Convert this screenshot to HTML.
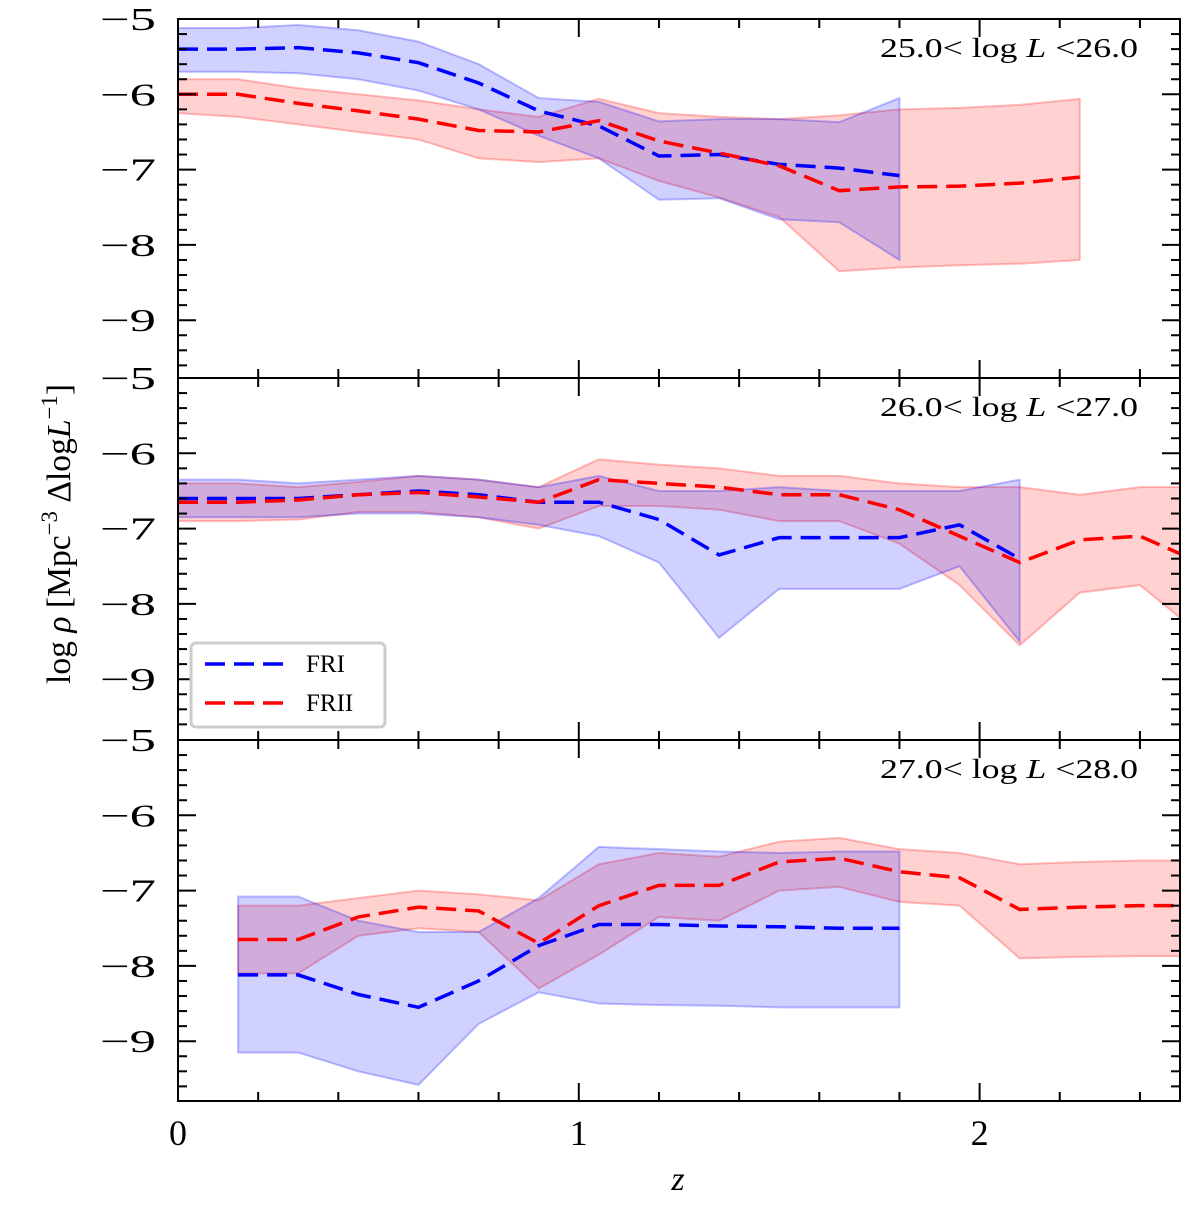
<!DOCTYPE html>
<html><head><meta charset="utf-8"><style>
body{margin:0;background:#fff}
svg text{font-family:"Liberation Serif",serif;fill:#000}
</style></head><body>
<svg id="c" width="1200" height="1205" xmlns="http://www.w3.org/2000/svg"></svg>
<script>
const zs=[0,0.15,0.3,0.45,0.6,0.75,0.9,1.05,1.2,1.35,1.5,1.65,1.8,1.95,2.1,2.25,2.4,2.55];
const p1FRI=[-5.4,-5.4,-5.38,-5.45,-5.58,-5.85,-6.22,-6.42,-6.82,-6.8,-6.93,-6.98,-7.08];
const p1FRIup=[-5.12,-5.12,-5.08,-5.15,-5.3,-5.6,-6.05,-6.1,-6.36,-6.33,-6.33,-6.37,-6.05];
const p1FRIlo=[-5.7,-5.7,-5.72,-5.8,-5.95,-6.2,-6.55,-6.85,-7.4,-7.38,-7.66,-7.7,-8.2];
const p1FRII=[-6.0,-6.0,-6.12,-6.22,-6.33,-6.48,-6.5,-6.35,-6.62,-6.78,-6.95,-7.28,-7.23,-7.22,-7.18,-7.1];
const p1FRIIup=[-5.8,-5.8,-5.92,-6.0,-6.08,-6.2,-6.3,-6.06,-6.25,-6.3,-6.33,-6.28,-6.2,-6.18,-6.14,-6.06];
const p1FRIIlo=[-6.25,-6.3,-6.4,-6.5,-6.6,-6.85,-6.9,-6.85,-7.15,-7.37,-7.63,-8.35,-8.3,-8.27,-8.25,-8.2];
const p2FRI=[-6.6,-6.6,-6.6,-6.55,-6.5,-6.55,-6.65,-6.65,-6.88,-7.35,-7.12,-7.12,-7.12,-6.95,-7.4];
const p2FRIup=[-6.35,-6.35,-6.4,-6.35,-6.3,-6.35,-6.45,-6.3,-6.5,-6.5,-6.45,-6.5,-6.5,-6.5,-6.35];
const p2FRIlo=[-6.85,-6.85,-6.85,-6.8,-6.8,-6.85,-6.95,-7.1,-7.45,-8.45,-7.8,-7.8,-7.8,-7.5,-8.5];
const p2FRII=[-6.65,-6.65,-6.62,-6.55,-6.52,-6.58,-6.65,-6.35,-6.4,-6.45,-6.55,-6.55,-6.75,-7.1,-7.45,-7.15,-7.1,-7.45];
const p2FRIIup=[-6.4,-6.4,-6.45,-6.38,-6.3,-6.35,-6.45,-6.08,-6.15,-6.2,-6.3,-6.3,-6.4,-6.45,-6.45,-6.55,-6.45,-6.45];
const p2FRIIlo=[-6.9,-6.9,-6.88,-6.78,-6.78,-6.85,-7.0,-6.7,-6.7,-6.75,-6.9,-6.9,-7.2,-7.75,-8.55,-7.85,-7.75,-8.4];
const p3FRI=[null,-8.12,-8.12,-8.38,-8.55,-8.2,-7.73,-7.45,-7.45,-7.47,-7.48,-7.5,-7.5];
const p3FRIup=[null,-7.08,-7.08,-7.4,-7.55,-7.55,-7.1,-6.42,-6.45,-6.48,-6.5,-6.48,-6.48];
const p3FRIlo=[null,-9.15,-9.15,-9.4,-9.58,-8.77,-8.35,-8.5,-8.52,-8.53,-8.55,-8.55,-8.55];
const p3FRII=[null,-7.65,-7.65,-7.35,-7.22,-7.27,-7.7,-7.2,-6.93,-6.93,-6.62,-6.57,-6.75,-6.83,-7.25,-7.22,-7.2,-7.2];
const p3FRIIup=[null,-7.2,-7.2,-7.1,-7.0,-7.05,-7.13,-6.65,-6.5,-6.55,-6.35,-6.3,-6.45,-6.5,-6.65,-6.62,-6.6,-6.6];
const p3FRIIlo=[null,-8.1,-8.1,-7.6,-7.5,-7.55,-8.3,-7.85,-7.35,-7.4,-7.0,-6.95,-7.15,-7.2,-7.9,-7.88,-7.87,-7.87];
const yTicks=[-5,-6,-7,-8,-9];
const xTicks=[0,1,2];
const panelLabels=["25.0< log","26.0< log","27.0< log"];
const panelLabelsHi=["<26.0","<27.0","<28.0"];

const svg=document.getElementById('c');
const NS='http://www.w3.org/2000/svg';
const X0=178,X1=1180,ZMAX=2.5;
const sx=z=>X0+(X1-X0)*z/ZMAX;
const PY=75.3;
const panels=[{top:19,bot:378},{top:378,bot:740},{top:740,bot:1101}];
function mk(tag,attrs,parent){const e=document.createElementNS(NS,tag);for(const k in attrs)e.setAttribute(k,attrs[k]);(parent||svg).appendChild(e);return e;}
const cp=mk('clipPath',{id:'clipall'},mk('defs',{}));
mk('rect',{x:X0,y:19,width:X1-X0,height:1082},cp);

const data=[[p1FRI,p1FRIup,p1FRIlo,p1FRII,p1FRIIup,p1FRIIlo],[p2FRI,p2FRIup,p2FRIlo,p2FRII,p2FRIIup,p2FRIIlo],[p3FRI,p3FRIup,p3FRIlo,p3FRII,p3FRIIup,p3FRIIlo]];
panels.forEach((p,i)=>{
  const sy=v=>p.top+(-5-v)*PY;
  const g=mk('g',{'clip-path':'url(#clipall)'});
  
  
  const d=data[i];
  function band(up,lo,fill,stroke,name){
    const pts=[];
    up.forEach((v,k)=>{if(v!=null)pts.push(sx(zs[k])+','+sy(v));});
    for(let k=lo.length-1;k>=0;k--)if(lo[k]!=null)pts.push(sx(zs[k])+','+sy(lo[k]));
    const e=mk('polygon',{points:pts.join(' '),fill:fill,'fill-opacity':0.18,stroke:stroke,'stroke-opacity':0.25,'stroke-width':2},g);
    
    
  }
  function line(vals,col,name){
    const pts=[];vals.forEach((v,k)=>{if(v!=null)pts.push(sx(zs[k])+','+sy(v));});
    const e=mk('polyline',{points:pts.join(' '),fill:'none',stroke:col,'stroke-width':3.5,'stroke-dasharray':'20,9'},g);
    
    
  }
  band(d[4],d[5],'#ff0000','#ff0000','fr2-band');
  band(d[1],d[2],'#0000ff','#0000ff','fr1-band');
  line(d[0],'#0000ff','fr1-line');
  line(d[3],'#ff0000','fr2-line');
  const ax=mk('g',{});
  
  
  mk('rect',{x:X0,y:p.top,width:X1-X0,height:p.bot-p.top,fill:'none',stroke:'#000','stroke-width':2},ax);
  for(let v=-5;v>=-9.8;v-=0.2){
    const y=sy(v);if(y>p.bot-1)break;
    const maj=Math.abs(v-Math.round(v))<0.01, L=maj?18:9;
    mk('line',{x1:X0,x2:X0+L,y1:y,y2:y,stroke:'#000','stroke-width':2},ax);
    mk('line',{x1:X1,x2:X1-L,y1:y,y2:y,stroke:'#000','stroke-width':2},ax);
  }
  for(let z=0.2;z<2.5;z+=0.2){
    const x=sx(z),maj=Math.abs(z-Math.round(z))<0.01,L=maj?18:9;
    mk('line',{x1:x,x2:x,y1:p.bot,y2:p.bot-L,stroke:'#000','stroke-width':2},ax);
    mk('line',{x1:x,x2:x,y1:p.top,y2:p.top+L,stroke:'#000','stroke-width':2},ax);
  }
  yTicks.forEach(v=>{
    const t=mk('text',{x:156,y:sy(v)+11,'text-anchor':'end','font-size':32,textLength:56,lengthAdjust:'spacingAndGlyphs'},ax);
    t.textContent='\u2212'+Math.abs(v);
    
    
  });
  const lt=mk('text',{x:880,y:p.top+38,'font-size':27,textLength:258,lengthAdjust:'spacingAndGlyphs'},ax);
  lt.innerHTML=panelLabels[i]+' <tspan font-style="italic">L</tspan> '+panelLabelsHi[i];
  
  
});
xTicks.forEach(z=>{
  const t=mk('text',{x:sx(z),y:1145,'text-anchor':'middle','font-size':36});
  t.textContent=z;
  
  
});
const xl=mk('text',{x:678,y:1190,'text-anchor':'middle','font-size':34,'font-style':'italic'});
xl.textContent='z';


const yl=mk('text',{x:0,y:0,'text-anchor':'middle','font-size':34,textLength:300,lengthAdjust:'spacingAndGlyphs',transform:'translate(70,534) rotate(-90)'});
yl.innerHTML='log <tspan font-style="italic">ρ</tspan> [Mpc<tspan dy="-13" font-size="23">−3</tspan><tspan dy="13"> Δlog</tspan><tspan font-style="italic">L</tspan><tspan dy="-13" font-size="23">−1</tspan><tspan dy="13">]</tspan>';


const lg=mk('g',{});


mk('rect',{x:191,y:643,width:194,height:84,rx:5,fill:'#fff',stroke:'#ccc','stroke-width':3},lg);
mk('line',{x1:205,x2:285,y1:664,y2:664,stroke:'#0000ff','stroke-width':3.5,'stroke-dasharray':'20,9'},lg);
mk('line',{x1:205,x2:285,y1:703,y2:703,stroke:'#ff0000','stroke-width':3.5,'stroke-dasharray':'20,9'},lg);
const t1=mk('text',{x:306,y:672,'font-size':25},lg);t1.textContent='FRI';


const t2=mk('text',{x:306,y:711,'font-size':25},lg);t2.textContent='FRII';


</script>
</body></html>
